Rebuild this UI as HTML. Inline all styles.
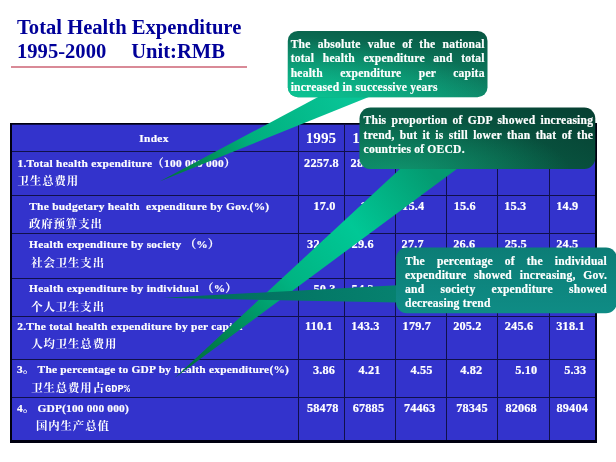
<!DOCTYPE html>
<html><head><meta charset="utf-8">
<style>
html,body{margin:0;padding:0;background:#fff;}
body{width:616px;height:462px;position:relative;overflow:hidden;font-family:"Liberation Serif","Noto Serif CJK SC",serif;font-weight:bold;}
.title{position:absolute;color:#000099;font-size:20.6px;line-height:24px;white-space:pre;}
.tbl{position:absolute;left:9.5px;top:122.5px;width:587.5px;height:320px;background:#000010;}
.grid{position:absolute;left:11.5px;top:124.3px;width:583.2px;height:315.7px;background:#10104a;}
.cell{position:absolute;background:#3333cc;}
.t{position:absolute;color:#fff;-webkit-text-stroke:0.2px #fff;font-size:11.4px;letter-spacing:0.28px;line-height:14px;white-space:pre;}
.cn{position:absolute;color:#fff;font-size:11.4px;letter-spacing:0.9px;line-height:14px;white-space:pre;font-weight:700;font-family:"Liberation Serif","Noto Serif CJK SC",serif;}
.n{position:absolute;color:#fff;-webkit-text-stroke:0.2px #fff;font-size:12.3px;letter-spacing:0.15px;line-height:14px;white-space:pre;}
.h{position:absolute;color:#fff;font-size:15.2px;line-height:18px;white-space:pre;}
.c{position:absolute;color:#fff;-webkit-text-stroke:0.2px #fff;white-space:nowrap;letter-spacing:0.2px;text-align:justify;text-align-last:justify;line-height:14px;}
.c.l{text-align:left;text-align-last:left;}
svg{position:absolute;left:0;top:0;}
.t,.n,.cn,.c,.h,.title{filter:blur(0.3px);}
</style></head><body>
<div class="title" id="t1" style="left:17px;top:14.85px">Total Health Expenditure</div>
<div class="title" id="t2" style="left:17px;top:39.35px">1995-2000</div>
<div class="title" id="t3" style="left:131.2px;top:39.35px">Unit:RMB</div>
<div style="position:absolute;left:10.5px;top:66.3px;width:236.3px;height:1.7px;background:#d98a97"></div>
<div class="tbl" id="tbl"></div><div class="grid"></div>
<div class="cell" style="left:11.50px;top:124.50px;width:286.10px;height:26.70px"></div>
<div class="cell" style="left:298.60px;top:124.50px;width:45.50px;height:26.70px"></div>
<div class="cell" style="left:345.10px;top:124.50px;width:49.50px;height:26.70px"></div>
<div class="cell" style="left:395.60px;top:124.50px;width:50.10px;height:26.70px"></div>
<div class="cell" style="left:446.70px;top:124.50px;width:50.60px;height:26.70px"></div>
<div class="cell" style="left:498.30px;top:124.50px;width:50.50px;height:26.70px"></div>
<div class="cell" style="left:549.80px;top:124.50px;width:44.90px;height:26.70px"></div>
<div class="cell" style="left:11.50px;top:152.20px;width:286.10px;height:42.80px"></div>
<div class="cell" style="left:298.60px;top:152.20px;width:45.50px;height:42.80px"></div>
<div class="cell" style="left:345.10px;top:152.20px;width:49.50px;height:42.80px"></div>
<div class="cell" style="left:395.60px;top:152.20px;width:50.10px;height:42.80px"></div>
<div class="cell" style="left:446.70px;top:152.20px;width:50.60px;height:42.80px"></div>
<div class="cell" style="left:498.30px;top:152.20px;width:50.50px;height:42.80px"></div>
<div class="cell" style="left:549.80px;top:152.20px;width:44.90px;height:42.80px"></div>
<div class="cell" style="left:11.50px;top:196.00px;width:286.10px;height:37.00px"></div>
<div class="cell" style="left:298.60px;top:196.00px;width:45.50px;height:37.00px"></div>
<div class="cell" style="left:345.10px;top:196.00px;width:49.50px;height:37.00px"></div>
<div class="cell" style="left:395.60px;top:196.00px;width:50.10px;height:37.00px"></div>
<div class="cell" style="left:446.70px;top:196.00px;width:50.60px;height:37.00px"></div>
<div class="cell" style="left:498.30px;top:196.00px;width:50.50px;height:37.00px"></div>
<div class="cell" style="left:549.80px;top:196.00px;width:44.90px;height:37.00px"></div>
<div class="cell" style="left:11.50px;top:234.00px;width:286.10px;height:43.50px"></div>
<div class="cell" style="left:298.60px;top:234.00px;width:45.50px;height:43.50px"></div>
<div class="cell" style="left:345.10px;top:234.00px;width:49.50px;height:43.50px"></div>
<div class="cell" style="left:395.60px;top:234.00px;width:50.10px;height:43.50px"></div>
<div class="cell" style="left:446.70px;top:234.00px;width:50.60px;height:43.50px"></div>
<div class="cell" style="left:498.30px;top:234.00px;width:50.50px;height:43.50px"></div>
<div class="cell" style="left:549.80px;top:234.00px;width:44.90px;height:43.50px"></div>
<div class="cell" style="left:11.50px;top:278.50px;width:286.10px;height:37.00px"></div>
<div class="cell" style="left:298.60px;top:278.50px;width:45.50px;height:37.00px"></div>
<div class="cell" style="left:345.10px;top:278.50px;width:49.50px;height:37.00px"></div>
<div class="cell" style="left:395.60px;top:278.50px;width:50.10px;height:37.00px"></div>
<div class="cell" style="left:446.70px;top:278.50px;width:50.60px;height:37.00px"></div>
<div class="cell" style="left:498.30px;top:278.50px;width:50.50px;height:37.00px"></div>
<div class="cell" style="left:549.80px;top:278.50px;width:44.90px;height:37.00px"></div>
<div class="cell" style="left:11.50px;top:316.50px;width:286.10px;height:42.00px"></div>
<div class="cell" style="left:298.60px;top:316.50px;width:45.50px;height:42.00px"></div>
<div class="cell" style="left:345.10px;top:316.50px;width:49.50px;height:42.00px"></div>
<div class="cell" style="left:395.60px;top:316.50px;width:50.10px;height:42.00px"></div>
<div class="cell" style="left:446.70px;top:316.50px;width:50.60px;height:42.00px"></div>
<div class="cell" style="left:498.30px;top:316.50px;width:50.50px;height:42.00px"></div>
<div class="cell" style="left:549.80px;top:316.50px;width:44.90px;height:42.00px"></div>
<div class="cell" style="left:11.50px;top:359.50px;width:286.10px;height:37.30px"></div>
<div class="cell" style="left:298.60px;top:359.50px;width:45.50px;height:37.30px"></div>
<div class="cell" style="left:345.10px;top:359.50px;width:49.50px;height:37.30px"></div>
<div class="cell" style="left:395.60px;top:359.50px;width:50.10px;height:37.30px"></div>
<div class="cell" style="left:446.70px;top:359.50px;width:50.60px;height:37.30px"></div>
<div class="cell" style="left:498.30px;top:359.50px;width:50.50px;height:37.30px"></div>
<div class="cell" style="left:549.80px;top:359.50px;width:44.90px;height:37.30px"></div>
<div class="cell" style="left:11.50px;top:397.80px;width:286.10px;height:42.60px"></div>
<div class="cell" style="left:298.60px;top:397.80px;width:45.50px;height:42.60px"></div>
<div class="cell" style="left:345.10px;top:397.80px;width:49.50px;height:42.60px"></div>
<div class="cell" style="left:395.60px;top:397.80px;width:50.10px;height:42.60px"></div>
<div class="cell" style="left:446.70px;top:397.80px;width:50.60px;height:42.60px"></div>
<div class="cell" style="left:498.30px;top:397.80px;width:50.50px;height:42.60px"></div>
<div class="cell" style="left:549.80px;top:397.80px;width:44.90px;height:42.60px"></div>
<div class="t" id="idx" style="left:10px;width:288px;text-align:center;top:130.55px">Index</div>
<div class="h" id="y0" style="left:305.70000000000005px;top:128.87px;">1995</div>
<div class="h" id="y1" style="left:352.20000000000005px;top:128.87px;">1996</div>
<div class="h" id="y2" style="left:402.70000000000005px;top:128.87px;">1997</div>
<div class="h" id="y3" style="left:453.8px;top:128.87px;">1998</div>
<div class="h" id="y4" style="left:505.40000000000003px;top:128.87px;">1999</div>
<div class="h" id="y5" style="left:556.9px;top:128.87px;">2000</div>
<div class="t" id="l0" style="left:17.5px;top:155.65px;">1.Total health expenditure（100 000 000）</div>
<div class="cn" id="c0" style="left:17.6px;top:174.00px">卫生总费用</div>
<div class="t" id="l1" style="left:29.2px;top:199.35px;">The budgetary health  expenditure by Gov.(%)</div>
<div class="cn" id="c1" style="left:29px;top:217.20px">政府预算支出</div>
<div class="t" id="l2" style="left:29px;top:237.35px;">Health expenditure by society （%）</div>
<div class="cn" id="c2" style="left:31.2px;top:255.60px">社会卫生支出</div>
<div class="t" id="l3" style="left:29px;top:281.35px;">Health expenditure by individual （%）</div>
<div class="cn" id="c3" style="left:31.2px;top:299.70px">个人卫生支出</div>
<div class="t" id="l4" style="left:17.2px;top:319.35px;">2.The total health expenditure by per capita</div>
<div class="cn" id="c4" style="left:31.2px;top:337.10px">人均卫生总费用</div>
<div class="t" id="l5" style="left:17px;top:362.45px;letter-spacing:0.22px">3。 The percentage to GDP by health expenditure(%)</div>
<div class="cn" id="c5" style="left:31.2px;top:381.20px">卫生总费用占<span style="font-family:'Liberation Mono',monospace;font-size:10.4px;font-weight:bold;letter-spacing:0">GDP%</span></div>
<div class="t" id="l6" style="left:17px;top:401.15px;letter-spacing:0.18px">4。 GDP(100 000 000)</div>
<div class="cn" id="c6" style="left:36px;top:418.80px">国内生产总值</div>
<div class="n" id="d0_0" style="left:304.1px;top:155.85px;">2257.8</div>
<div class="n" id="d0_1" style="left:350.6px;top:155.85px;">2857.2</div>
<div class="n" id="d0_2" style="left:401.1px;top:155.85px;">3384.9</div>
<div class="n" id="d0_3" style="left:452.2px;top:155.85px;">3776.5</div>
<div class="n" id="d0_4" style="left:503.8px;top:155.85px;">4178.6</div>
<div class="n" id="d0_5" style="left:555.3px;top:155.85px;">4764.0</div>
<div class="n" id="d1_0" style="left:313.5px;top:199.15px;">17.0</div>
<div class="n" id="d1_1" style="left:360.20000000000005px;top:199.15px;">16.1</div>
<div class="n" id="d1_2" style="left:402.1px;top:199.15px;">15.4</div>
<div class="n" id="d1_3" style="left:453.7px;top:199.15px;">15.6</div>
<div class="n" id="d1_4" style="left:504.3px;top:199.15px;">15.3</div>
<div class="n" id="d1_5" style="left:556.3px;top:199.15px;">14.9</div>
<div class="n" id="d2_0" style="left:307.1px;top:236.55px;">32.7</div>
<div class="n" id="d2_1" style="left:351.6px;top:236.55px;">29.6</div>
<div class="n" id="d2_2" style="left:401.6px;top:236.55px;">27.7</div>
<div class="n" id="d2_3" style="left:453.2px;top:236.55px;">26.6</div>
<div class="n" id="d2_4" style="left:504.8px;top:236.55px;">25.5</div>
<div class="n" id="d2_5" style="left:556.3px;top:236.55px;">24.5</div>
<div class="n" id="d3_0" style="left:313.40000000000003px;top:282.05px;">50.3</div>
<div class="n" id="d3_1" style="left:351.6px;top:282.05px;">54.3</div>
<div class="n" id="d3_2" style="left:402.1px;top:282.05px;">56.9</div>
<div class="n" id="d3_3" style="left:453.2px;top:282.05px;">57.8</div>
<div class="n" id="d3_4" style="left:504.8px;top:282.05px;">59.2</div>
<div class="n" id="d3_5" style="left:556.3px;top:282.05px;">60.6</div>
<div class="n" id="d4_0" style="left:305.1px;top:319.35px;">110.1</div>
<div class="n" id="d4_1" style="left:351.20000000000005px;top:319.35px;">143.3</div>
<div class="n" id="d4_2" style="left:402.6px;top:319.35px;">179.7</div>
<div class="n" id="d4_3" style="left:453.2px;top:319.35px;">205.2</div>
<div class="n" id="d4_4" style="left:504.8px;top:319.35px;">245.6</div>
<div class="n" id="d4_5" style="left:556.3px;top:319.35px;">318.1</div>
<div class="n" id="d5_0" style="left:313.0px;top:363.05px;">3.86</div>
<div class="n" id="d5_1" style="left:358.40000000000003px;top:363.05px;">4.21</div>
<div class="n" id="d5_2" style="left:410.40000000000003px;top:363.05px;">4.55</div>
<div class="n" id="d5_3" style="left:460.2px;top:363.05px;">4.82</div>
<div class="n" id="d5_4" style="left:515.3px;top:363.05px;">5.10</div>
<div class="n" id="d5_5" style="left:564.3px;top:363.05px;">5.33</div>
<div class="n" id="d6_0" style="left:307.0px;top:400.65px;">58478</div>
<div class="n" id="d6_1" style="left:352.70000000000005px;top:400.65px;">67885</div>
<div class="n" id="d6_2" style="left:403.90000000000003px;top:400.65px;">74463</div>
<div class="n" id="d6_3" style="left:456.2px;top:400.65px;">78345</div>
<div class="n" id="d6_4" style="left:505.40000000000003px;top:400.65px;">82068</div>
<div class="n" id="d6_5" style="left:556.5px;top:400.65px;">89404</div>
<svg width="616" height="462" viewBox="0 0 616 462">
<defs>
<linearGradient id="g1" gradientUnits="userSpaceOnUse" x1="487.5" y1="31" x2="477" y2="119.5"><stop offset="0" stop-color="#085541"/><stop offset="1" stop-color="#109976"/></linearGradient>
<radialGradient id="r1" gradientUnits="userSpaceOnUse" cx="0" cy="0" r="1" gradientTransform="translate(295,100) scale(200,62)"><stop offset="0" stop-color="#0ac896" stop-opacity="0.95"/><stop offset="1" stop-color="#0ac896" stop-opacity="0"/></radialGradient>
<linearGradient id="g1t" gradientUnits="userSpaceOnUse" x1="344" y1="97" x2="160" y2="181"><stop offset="0" stop-color="#08c496"/><stop offset="0.5" stop-color="#00b07e"/><stop offset="0.85" stop-color="#00824b"/><stop offset="1" stop-color="#00733c"/></linearGradient>
<linearGradient id="g2" gradientUnits="userSpaceOnUse" x1="595.3" y1="107.5" x2="520.6" y2="251.9"><stop offset="0" stop-color="#063f31"/><stop offset="1" stop-color="#0b6e52"/></linearGradient>
<radialGradient id="r2" gradientUnits="userSpaceOnUse" cx="0" cy="0" r="1" gradientTransform="translate(400,172) scale(170,55)"><stop offset="0" stop-color="#10a076" stop-opacity="0.75"/><stop offset="1" stop-color="#10a076" stop-opacity="0"/></radialGradient>
<linearGradient id="g2t" gradientUnits="userSpaceOnUse" x1="429" y1="169" x2="174" y2="378"><stop offset="0" stop-color="#049a70"/><stop offset="0.29" stop-color="#00c896"/><stop offset="0.54" stop-color="#00b482"/><stop offset="0.84" stop-color="#007d4b"/><stop offset="1" stop-color="#006937"/></linearGradient>
<linearGradient id="g3" x1="0" y1="0" x2="0" y2="1"><stop offset="0" stop-color="#0c7d76"/><stop offset="1" stop-color="#0f8c85"/></linearGradient>
<linearGradient id="g3t" gradientUnits="userSpaceOnUse" x1="396" y1="295" x2="163" y2="297"><stop offset="0" stop-color="#06816f"/><stop offset="1" stop-color="#006a58"/></linearGradient>
</defs>
<polygon points="319,96.5 370,96.5 159.5,181.5" fill="url(#g1t)"/>
<rect x="287.8" y="30.9" width="199.7" height="66.3" rx="10" ry="10" fill="url(#g1)"/>
<rect x="287.8" y="30.9" width="199.7" height="66.3" rx="10" ry="10" fill="url(#r1)"/>
<polygon points="400.5,168.5 457.5,168.5 174.5,378" fill="url(#g2t)"/>
<rect x="359.5" y="107.5" width="235.8" height="61.5" rx="11" ry="11" fill="url(#g2)"/>
<rect x="359.5" y="107.5" width="235.8" height="61.5" rx="11" ry="11" fill="url(#r2)"/>
<polygon points="397,285.3 397,302.5 163,297.8" fill="url(#g3t)"/>
<rect x="396" y="247.6" width="221" height="65.6" rx="11" ry="11" fill="url(#g3)"/>
</svg>
<div class="c" id="a0" style="left:290.7px;width:194px;top:37.98px;font-size:11.6px">The absolute value of the national</div>
<div class="c" id="a1" style="left:290.7px;width:194px;top:52.29px;font-size:11.6px">total health expenditure and total</div>
<div class="c" id="a2" style="left:290.7px;width:194px;top:66.69px;font-size:11.6px">health expenditure per capita</div>
<div class="c l" id="a3" style="left:290.7px;width:194px;top:80.88px;font-size:11.6px">increased in successive years</div>
<div class="c" id="b0" style="left:363.6px;width:229.6px;top:114.49px;font-size:11.6px">This proportion of GDP showed increasing</div>
<div class="c" id="b1" style="left:363.6px;width:229.6px;top:128.89px;font-size:11.6px">trend, but it is still lower than that of the</div>
<div class="c l" id="b2" style="left:363.6px;width:229.6px;top:142.89px;font-size:11.6px">countries of OECD.</div>
<div class="c" id="e0" style="left:405px;width:202px;top:254.69px;font-size:11.6px">The percentage of the individual</div>
<div class="c" id="e1" style="left:405px;width:202px;top:268.88px;font-size:11.6px">expenditure showed increasing, Gov.</div>
<div class="c" id="e2" style="left:405px;width:202px;top:283.19px;font-size:11.6px">and society expenditure showed</div>
<div class="c l" id="e3" style="left:405px;width:202px;top:297.28px;font-size:11.6px">decreasing trend</div>
</body></html>
